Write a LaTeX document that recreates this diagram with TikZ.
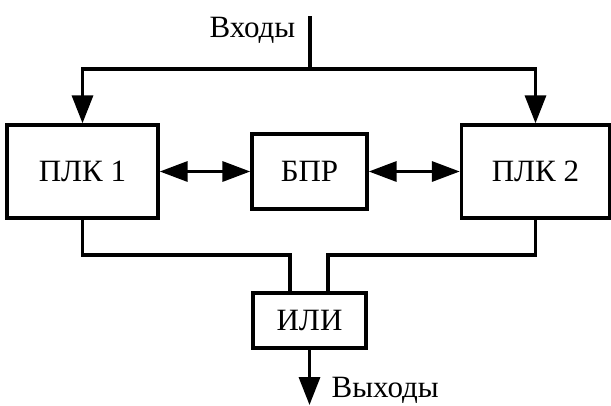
\documentclass[tikz,border=0pt]{standalone}
\usepackage{fontspec}
\setmainfont{Liberation Serif}
\usetikzlibrary{arrows.meta}
\begin{document}
\begin{tikzpicture}[x=1pt,y=-1pt,
  line width=3.4pt,
  blk/.style={draw,rectangle,inner sep=0pt,font=\fontsize{31}{37}\selectfont},
  lbl/.style={inner sep=0pt,font=\fontsize{31}{37}\selectfont},
  tip/.style={-{Triangle[length=28pt,width=21pt]}},
  dtip/.style={{Triangle[length=28pt,width=20pt]}-{Triangle[length=28pt,width=20pt]}}]
\useasboundingbox (0,0) rectangle (611,405);
\node[blk,minimum width=151pt,minimum height=93pt] (plk1) at (82.5,171.5) {ПЛК 1};
\node[blk,minimum width=115pt,minimum height=75pt] (bpr) at (309.5,171.5) {БПР};
\node[blk,minimum width=148pt,minimum height=93pt] (plk2) at (535.5,171.5) {ПЛК 2};
\node[blk,minimum width=113pt,minimum height=55pt] (ili) at (309.5,320.5) {ИЛИ};
\node[lbl,anchor=base east] (in) at (297,37) {Входы};
\node[lbl,anchor=base west] (outl) at (330,397) {Выходы};
\coordinate (src) at (310,16);
\coordinate (top) at (310,69);
\coordinate (jl) at (290,255);
\coordinate (jr) at (328,255);
\coordinate (out) at (309.5,405);
\draw (src) -- (top);
\draw[tip] (top) -| (plk1.north);
\draw[tip] (top) -| (plk2.north);
\draw[dtip] (plk1.east) -- (bpr.west);
\draw[dtip] (bpr.east) -- (plk2.west);
\draw (plk1.south) |- (jl) -- (jl |- ili.north);
\draw (plk2.south) |- (jr) -- (jr |- ili.north);
\draw[tip] (ili.south) -- (out);
\end{tikzpicture}
\end{document}
